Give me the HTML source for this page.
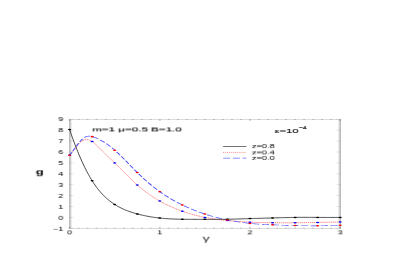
<!DOCTYPE html>
<html><head><meta charset="utf-8"><style>
html,body{margin:0;padding:0;background:#fff;}
body{width:410px;height:258px;position:relative;overflow:hidden;font-family:"Liberation Sans",sans-serif;color:#000;}
svg{position:absolute;left:0;top:0;}
.t{will-change:transform;position:absolute;left:0;top:0;white-space:nowrap;line-height:1;transform-origin:0 0;}
</style></head><body>
<svg width="410" height="258" viewBox="0 0 410 258">
<defs>
<linearGradient id="gl" x1="0" x2="1" y1="0" y2="0"><stop offset="0" stop-color="#b6b6b6"/><stop offset="0.45" stop-color="#cecece"/><stop offset="0.8" stop-color="#eeeeee"/><stop offset="1" stop-color="#ffffff"/></linearGradient>
<linearGradient id="gr" x1="1" x2="0" y1="0" y2="0"><stop offset="0" stop-color="#b6b6b6"/><stop offset="0.45" stop-color="#cecece"/><stop offset="0.8" stop-color="#eeeeee"/><stop offset="1" stop-color="#ffffff"/></linearGradient>
</defs>
<rect x="69.0" y="119.35" width="3.2" height="109.0" fill="url(#gl)"/>
<rect x="337.8" y="119.35" width="3.2" height="109.0" fill="url(#gr)"/>
<rect x="69.0" y="118.95" width="272.0" height="0.8" fill="#d2d2d2"/>
<rect x="69.0" y="227.95" width="272.0" height="0.8" fill="#d2d2d2"/>
<g fill="#000" fill-opacity="0.18"><rect x="68.70" y="226.75" width="1.8" height="1.9"/><rect x="68.70" y="119.05" width="1.8" height="1.9"/><rect x="77.72" y="227.65" width="1.8" height="1.0"/><rect x="77.72" y="119.05" width="1.8" height="1.0"/><rect x="86.74" y="227.65" width="1.8" height="1.0"/><rect x="86.74" y="119.05" width="1.8" height="1.0"/><rect x="95.76" y="227.65" width="1.8" height="1.0"/><rect x="95.76" y="119.05" width="1.8" height="1.0"/><rect x="104.78" y="227.65" width="1.8" height="1.0"/><rect x="104.78" y="119.05" width="1.8" height="1.0"/><rect x="113.80" y="227.65" width="1.8" height="1.0"/><rect x="113.80" y="119.05" width="1.8" height="1.0"/><rect x="122.82" y="227.65" width="1.8" height="1.0"/><rect x="122.82" y="119.05" width="1.8" height="1.0"/><rect x="131.84" y="227.65" width="1.8" height="1.0"/><rect x="131.84" y="119.05" width="1.8" height="1.0"/><rect x="140.86" y="227.65" width="1.8" height="1.0"/><rect x="140.86" y="119.05" width="1.8" height="1.0"/><rect x="149.88" y="227.65" width="1.8" height="1.0"/><rect x="149.88" y="119.05" width="1.8" height="1.0"/><rect x="158.90" y="226.75" width="1.8" height="1.9"/><rect x="158.90" y="119.05" width="1.8" height="1.9"/><rect x="167.92" y="227.65" width="1.8" height="1.0"/><rect x="167.92" y="119.05" width="1.8" height="1.0"/><rect x="176.94" y="227.65" width="1.8" height="1.0"/><rect x="176.94" y="119.05" width="1.8" height="1.0"/><rect x="185.96" y="227.65" width="1.8" height="1.0"/><rect x="185.96" y="119.05" width="1.8" height="1.0"/><rect x="194.98" y="227.65" width="1.8" height="1.0"/><rect x="194.98" y="119.05" width="1.8" height="1.0"/><rect x="204.00" y="227.65" width="1.8" height="1.0"/><rect x="204.00" y="119.05" width="1.8" height="1.0"/><rect x="213.02" y="227.65" width="1.8" height="1.0"/><rect x="213.02" y="119.05" width="1.8" height="1.0"/><rect x="222.04" y="227.65" width="1.8" height="1.0"/><rect x="222.04" y="119.05" width="1.8" height="1.0"/><rect x="231.06" y="227.65" width="1.8" height="1.0"/><rect x="231.06" y="119.05" width="1.8" height="1.0"/><rect x="240.08" y="227.65" width="1.8" height="1.0"/><rect x="240.08" y="119.05" width="1.8" height="1.0"/><rect x="249.10" y="226.75" width="1.8" height="1.9"/><rect x="249.10" y="119.05" width="1.8" height="1.9"/><rect x="258.12" y="227.65" width="1.8" height="1.0"/><rect x="258.12" y="119.05" width="1.8" height="1.0"/><rect x="267.14" y="227.65" width="1.8" height="1.0"/><rect x="267.14" y="119.05" width="1.8" height="1.0"/><rect x="276.16" y="227.65" width="1.8" height="1.0"/><rect x="276.16" y="119.05" width="1.8" height="1.0"/><rect x="285.18" y="227.65" width="1.8" height="1.0"/><rect x="285.18" y="119.05" width="1.8" height="1.0"/><rect x="294.20" y="227.65" width="1.8" height="1.0"/><rect x="294.20" y="119.05" width="1.8" height="1.0"/><rect x="303.22" y="227.65" width="1.8" height="1.0"/><rect x="303.22" y="119.05" width="1.8" height="1.0"/><rect x="312.24" y="227.65" width="1.8" height="1.0"/><rect x="312.24" y="119.05" width="1.8" height="1.0"/><rect x="321.26" y="227.65" width="1.8" height="1.0"/><rect x="321.26" y="119.05" width="1.8" height="1.0"/><rect x="330.28" y="227.65" width="1.8" height="1.0"/><rect x="330.28" y="119.05" width="1.8" height="1.0"/><rect x="339.30" y="226.75" width="1.8" height="1.9"/><rect x="339.30" y="119.05" width="1.8" height="1.9"/></g>
<g fill="#000" fill-opacity="0.10"><rect x="69.0" y="227.90" width="4.7" height="0.8"/><rect x="336.3" y="227.90" width="4.7" height="0.8"/><rect x="69.0" y="217.00" width="4.7" height="0.8"/><rect x="336.3" y="217.00" width="4.7" height="0.8"/><rect x="69.0" y="206.10" width="4.7" height="0.8"/><rect x="336.3" y="206.10" width="4.7" height="0.8"/><rect x="69.0" y="195.20" width="4.7" height="0.8"/><rect x="336.3" y="195.20" width="4.7" height="0.8"/><rect x="69.0" y="184.30" width="4.7" height="0.8"/><rect x="336.3" y="184.30" width="4.7" height="0.8"/><rect x="69.0" y="173.40" width="4.7" height="0.8"/><rect x="336.3" y="173.40" width="4.7" height="0.8"/><rect x="69.0" y="162.50" width="4.7" height="0.8"/><rect x="336.3" y="162.50" width="4.7" height="0.8"/><rect x="69.0" y="151.60" width="4.7" height="0.8"/><rect x="336.3" y="151.60" width="4.7" height="0.8"/><rect x="69.0" y="140.70" width="4.7" height="0.8"/><rect x="336.3" y="140.70" width="4.7" height="0.8"/><rect x="69.0" y="129.80" width="4.7" height="0.8"/><rect x="336.3" y="129.80" width="4.7" height="0.8"/><rect x="69.0" y="118.90" width="4.7" height="0.8"/><rect x="336.3" y="118.90" width="4.7" height="0.8"/></g>
<g transform="scale(2.0,1)" fill="none">
<path d="M34.80,155.27 L35.25,154.29 L35.70,153.24 L36.15,152.12 L36.60,150.97 L37.05,149.79 L37.51,148.60 L37.96,147.42 L38.41,146.27 L38.86,145.17 L39.31,144.13 L39.76,143.16 L40.21,142.30 L40.66,141.55 L41.11,140.92 L41.56,140.41 L42.02,140.03 L42.47,139.76 L42.92,139.61 L43.37,139.58 L43.82,139.65 L44.27,139.84 L44.72,140.13 L45.17,140.51 L45.62,140.98 L46.07,141.54 L46.53,142.17 L46.98,142.87 L47.43,143.63 L47.88,144.44 L48.33,145.29 L48.78,146.17 L49.23,147.08 L49.68,148.00 L50.13,148.93 L50.59,149.85 L51.04,150.77 L51.49,151.67 L51.94,152.56 L52.39,153.44 L52.84,154.31 L53.29,155.18 L53.74,156.04 L54.19,156.89 L54.64,157.75 L55.09,158.60 L55.55,159.45 L56.00,160.31 L56.45,161.17 L56.90,162.03 L57.35,162.90 L57.80,163.78 L58.25,164.66 L58.70,165.55 L59.15,166.45 L59.61,167.34 L60.06,168.25 L60.51,169.15 L60.96,170.06 L61.41,170.97 L61.86,171.88 L62.31,172.78 L62.76,173.69 L63.21,174.59 L63.66,175.49 L64.11,176.39 L64.57,177.28 L65.02,178.16 L65.47,179.04 L65.92,179.91 L66.37,180.77 L66.82,181.62 L67.27,182.46 L67.72,183.29 L68.17,184.11 L68.62,184.92 L69.08,185.71 L69.53,186.49 L69.98,187.25 L70.43,188.01 L70.88,188.75 L71.33,189.47 L71.78,190.19 L72.23,190.89 L72.68,191.58 L73.13,192.25 L73.59,192.92 L74.04,193.57 L74.49,194.21 L74.94,194.84 L75.39,195.46 L75.84,196.06 L76.29,196.66 L76.74,197.25 L77.19,197.82 L77.65,198.38 L78.10,198.94 L78.55,199.48 L79.00,200.01 L79.45,200.54 L79.90,201.05 L80.35,201.55 L80.80,202.05 L81.25,202.53 L81.70,203.01 L82.16,203.48 L82.61,203.94 L83.06,204.39 L83.51,204.83 L83.96,205.26 L84.41,205.69 L84.86,206.10 L85.31,206.51 L85.76,206.91 L86.21,207.31 L86.67,207.69 L87.12,208.07 L87.57,208.44 L88.02,208.81 L88.47,209.17 L88.92,209.52 L89.37,209.87 L89.82,210.21 L90.27,210.54 L90.72,210.87 L91.17,211.19 L91.63,211.50 L92.08,211.81 L92.53,212.12 L92.98,212.42 L93.43,212.71 L93.88,213.00 L94.33,213.28 L94.78,213.55 L95.23,213.82 L95.69,214.09 L96.14,214.35 L96.59,214.60 L97.04,214.85 L97.49,215.09 L97.94,215.33 L98.39,215.56 L98.84,215.79 L99.29,216.01 L99.74,216.22 L100.19,216.43 L100.65,216.64 L101.10,216.84 L101.55,217.03 L102.00,217.22 L102.45,217.40 L102.90,217.58 L103.35,217.75 L103.80,217.91 L104.25,218.08 L104.70,218.23 L105.16,218.38 L105.61,218.53 L106.06,218.67 L106.51,218.81 L106.96,218.95 L107.41,219.08 L107.86,219.20 L108.31,219.32 L108.76,219.44 L109.22,219.56 L109.67,219.67 L110.12,219.78 L110.57,219.89 L111.02,219.99 L111.47,220.09 L111.92,220.19 L112.37,220.29 L112.82,220.38 L113.27,220.47 L113.72,220.56 L114.18,220.65 L114.63,220.73 L115.08,220.82 L115.53,220.90 L115.98,220.98 L116.43,221.06 L116.88,221.14 L117.33,221.21 L117.78,221.29 L118.23,221.36 L118.69,221.43 L119.14,221.49 L119.59,221.56 L120.04,221.62 L120.49,221.68 L120.94,221.74 L121.39,221.80 L121.84,221.86 L122.29,221.91 L122.75,221.96 L123.20,222.02 L123.65,222.06 L124.10,222.11 L124.55,222.15 L125.00,222.20 L125.45,222.24 L125.90,222.27 L126.35,222.31 L126.80,222.35 L127.25,222.38 L127.71,222.41 L128.16,222.44 L128.61,222.47 L129.06,222.49 L129.51,222.52 L129.96,222.54 L130.41,222.56 L130.86,222.58 L131.31,222.60 L131.76,222.62 L132.22,222.64 L132.67,222.65 L133.12,222.67 L133.57,222.68 L134.02,222.69 L134.47,222.70 L134.92,222.71 L135.37,222.72 L135.82,222.73 L136.28,222.74 L136.73,222.75 L137.18,222.76 L137.63,222.76 L138.08,222.77 L138.53,222.77 L138.98,222.78 L139.43,222.78 L139.88,222.78 L140.33,222.79 L140.79,222.79 L141.24,222.79 L141.69,222.79 L142.14,222.79 L142.59,222.79 L143.04,222.79 L143.49,222.79 L143.94,222.78 L144.39,222.78 L144.84,222.78 L145.30,222.77 L145.75,222.77 L146.20,222.76 L146.65,222.75 L147.10,222.75 L147.55,222.74 L148.00,222.73 L148.45,222.72 L148.90,222.72 L149.35,222.71 L149.81,222.70 L150.26,222.69 L150.71,222.67 L151.16,222.66 L151.61,222.65 L152.06,222.64 L152.51,222.63 L152.96,222.61 L153.41,222.60 L153.86,222.59 L154.31,222.57 L154.77,222.56 L155.22,222.54 L155.67,222.53 L156.12,222.51 L156.57,222.50 L157.02,222.48 L157.47,222.46 L157.92,222.45 L158.37,222.43 L158.82,222.41 L159.28,222.40 L159.73,222.38 L160.18,222.36 L160.63,222.35 L161.08,222.33 L161.53,222.31 L161.98,222.29 L162.43,222.27 L162.88,222.26 L163.33,222.24 L163.79,222.22 L164.24,222.20 L164.69,222.19 L165.14,222.17 L165.59,222.15 L166.04,222.13 L166.49,222.11 L166.94,222.10 L167.39,222.08 L167.85,222.06 L168.30,222.04 L168.75,222.03 L169.20,222.01 L169.65,221.99 L170.10,221.98" stroke="#ff4040" stroke-width="0.5" stroke-dasharray="0.58 0.39"/>
<path d="M34.80,155.27 L35.25,154.14 L35.70,152.96 L36.15,151.75 L36.60,150.51 L37.05,149.26 L37.51,148.01 L37.96,146.77 L38.41,145.55 L38.86,144.36 L39.31,143.21 L39.76,142.12 L40.21,141.10 L40.66,140.15 L41.11,139.28 L41.56,138.51 L42.02,137.84 L42.47,137.26 L42.92,136.79 L43.37,136.44 L43.82,136.20 L44.27,136.09 L44.72,136.09 L45.17,136.20 L45.62,136.39 L46.07,136.63 L46.53,136.90 L46.98,137.19 L47.43,137.51 L47.88,137.86 L48.33,138.22 L48.78,138.62 L49.23,139.03 L49.68,139.47 L50.13,139.93 L50.59,140.41 L51.04,140.92 L51.49,141.45 L51.94,142.00 L52.39,142.57 L52.84,143.16 L53.29,143.77 L53.74,144.40 L54.19,145.06 L54.64,145.73 L55.09,146.42 L55.55,147.13 L56.00,147.86 L56.45,148.60 L56.90,149.37 L57.35,150.15 L57.80,150.95 L58.25,151.76 L58.70,152.59 L59.15,153.43 L59.61,154.29 L60.06,155.16 L60.51,156.04 L60.96,156.92 L61.41,157.82 L61.86,158.73 L62.31,159.64 L62.76,160.55 L63.21,161.48 L63.66,162.40 L64.11,163.33 L64.57,164.26 L65.02,165.18 L65.47,166.11 L65.92,167.04 L66.37,167.96 L66.82,168.88 L67.27,169.79 L67.72,170.70 L68.17,171.60 L68.62,172.49 L69.08,173.37 L69.53,174.25 L69.98,175.11 L70.43,175.97 L70.88,176.81 L71.33,177.65 L71.78,178.47 L72.23,179.29 L72.68,180.10 L73.13,180.90 L73.59,181.68 L74.04,182.46 L74.49,183.23 L74.94,183.99 L75.39,184.74 L75.84,185.48 L76.29,186.20 L76.74,186.92 L77.19,187.63 L77.65,188.33 L78.10,189.02 L78.55,189.70 L79.00,190.37 L79.45,191.03 L79.90,191.68 L80.35,192.31 L80.80,192.94 L81.25,193.56 L81.70,194.17 L82.16,194.77 L82.61,195.36 L83.06,195.94 L83.51,196.51 L83.96,197.07 L84.41,197.63 L84.86,198.17 L85.31,198.71 L85.76,199.24 L86.21,199.76 L86.67,200.27 L87.12,200.77 L87.57,201.27 L88.02,201.75 L88.47,202.24 L88.92,202.71 L89.37,203.18 L89.82,203.64 L90.27,204.09 L90.72,204.53 L91.17,204.97 L91.63,205.41 L92.08,205.83 L92.53,206.25 L92.98,206.67 L93.43,207.08 L93.88,207.48 L94.33,207.88 L94.78,208.26 L95.23,208.65 L95.69,209.03 L96.14,209.40 L96.59,209.77 L97.04,210.13 L97.49,210.48 L97.94,210.83 L98.39,211.17 L98.84,211.51 L99.29,211.84 L99.74,212.17 L100.19,212.49 L100.65,212.81 L101.10,213.12 L101.55,213.43 L102.00,213.73 L102.45,214.02 L102.90,214.31 L103.35,214.60 L103.80,214.88 L104.25,215.15 L104.70,215.42 L105.16,215.69 L105.61,215.95 L106.06,216.20 L106.51,216.45 L106.96,216.70 L107.41,216.94 L107.86,217.18 L108.31,217.42 L108.76,217.65 L109.22,217.87 L109.67,218.09 L110.12,218.31 L110.57,218.52 L111.02,218.73 L111.47,218.94 L111.92,219.14 L112.37,219.34 L112.82,219.53 L113.27,219.72 L113.72,219.91 L114.18,220.09 L114.63,220.27 L115.08,220.45 L115.53,220.62 L115.98,220.79 L116.43,220.95 L116.88,221.12 L117.33,221.28 L117.78,221.43 L118.23,221.58 L118.69,221.73 L119.14,221.87 L119.59,222.01 L120.04,222.15 L120.49,222.28 L120.94,222.41 L121.39,222.54 L121.84,222.66 L122.29,222.77 L122.75,222.89 L123.20,223.00 L123.65,223.10 L124.10,223.20 L124.55,223.30 L125.00,223.40 L125.45,223.48 L125.90,223.57 L126.35,223.65 L126.80,223.73 L127.25,223.81 L127.71,223.88 L128.16,223.95 L128.61,224.01 L129.06,224.07 L129.51,224.13 L129.96,224.19 L130.41,224.25 L130.86,224.30 L131.31,224.35 L131.76,224.40 L132.22,224.45 L132.67,224.49 L133.12,224.54 L133.57,224.58 L134.02,224.62 L134.47,224.66 L134.92,224.70 L135.37,224.74 L135.82,224.77 L136.28,224.81 L136.73,224.85 L137.18,224.89 L137.63,224.92 L138.08,224.96 L138.53,224.99 L138.98,225.03 L139.43,225.06 L139.88,225.10 L140.33,225.13 L140.79,225.16 L141.24,225.20 L141.69,225.23 L142.14,225.26 L142.59,225.29 L143.04,225.32 L143.49,225.35 L143.94,225.38 L144.39,225.40 L144.84,225.43 L145.30,225.46 L145.75,225.48 L146.20,225.51 L146.65,225.53 L147.10,225.55 L147.55,225.58 L148.00,225.60 L148.45,225.62 L148.90,225.64 L149.35,225.65 L149.81,225.67 L150.26,225.69 L150.71,225.70 L151.16,225.72 L151.61,225.73 L152.06,225.74 L152.51,225.75 L152.96,225.76 L153.41,225.77 L153.86,225.78 L154.31,225.79 L154.77,225.79 L155.22,225.80 L155.67,225.80 L156.12,225.80 L156.57,225.80 L157.02,225.80 L157.47,225.80 L157.92,225.80 L158.37,225.80 L158.82,225.79 L159.28,225.79 L159.73,225.78 L160.18,225.77 L160.63,225.76 L161.08,225.75 L161.53,225.74 L161.98,225.73 L162.43,225.71 L162.88,225.69 L163.33,225.68 L163.79,225.66 L164.24,225.64 L164.69,225.62 L165.14,225.59 L165.59,225.57 L166.04,225.54 L166.49,225.52 L166.94,225.49 L167.39,225.46 L167.85,225.43 L168.30,225.39 L168.75,225.36 L169.20,225.32 L169.65,225.29 L170.10,225.25" stroke="#5050ff" stroke-width="0.65" stroke-dasharray="3.5 1.4" stroke-dashoffset="0.45"/>
<path d="M111.55,146.5 H123.2" stroke="#333" stroke-width="0.45"/>
<path d="M111.55,152.4 H123.2" stroke="#ff4848" stroke-width="0.42" stroke-dasharray="0.5 0.47"/>
<path d="M111.55,158.1 H123.2" stroke="#6868ff" stroke-width="0.6" stroke-dasharray="3.5 1.4"/>
</g>
<path d="M69.60,129.55 L70.50,132.19 L71.40,134.79 L72.31,137.33 L73.21,139.83 L74.11,142.27 L75.01,144.67 L75.91,147.01 L76.82,149.31 L77.72,151.56 L78.62,153.75 L79.52,155.90 L80.42,158.00 L81.33,160.04 L82.23,162.04 L83.13,163.99 L84.03,165.89 L84.93,167.74 L85.84,169.54 L86.74,171.29 L87.64,172.99 L88.54,174.65 L89.44,176.25 L90.35,177.81 L91.25,179.32 L92.15,180.78 L93.05,182.19 L93.95,183.55 L94.86,184.87 L95.76,186.14 L96.66,187.37 L97.56,188.55 L98.46,189.70 L99.37,190.80 L100.27,191.86 L101.17,192.89 L102.07,193.87 L102.97,194.83 L103.88,195.74 L104.78,196.63 L105.68,197.48 L106.58,198.30 L107.48,199.08 L108.39,199.84 L109.29,200.57 L110.19,201.28 L111.09,201.95 L111.99,202.61 L112.90,203.24 L113.80,203.84 L114.70,204.43 L115.60,204.99 L116.50,205.54 L117.41,206.07 L118.31,206.57 L119.21,207.06 L120.11,207.53 L121.01,207.99 L121.92,208.43 L122.82,208.85 L123.72,209.26 L124.62,209.65 L125.52,210.03 L126.43,210.40 L127.33,210.75 L128.23,211.09 L129.13,211.41 L130.03,211.73 L130.94,212.04 L131.84,212.33 L132.74,212.61 L133.64,212.89 L134.54,213.16 L135.45,213.42 L136.35,213.67 L137.25,213.91 L138.15,214.15 L139.05,214.38 L139.96,214.61 L140.86,214.82 L141.76,215.04 L142.66,215.24 L143.56,215.44 L144.47,215.64 L145.37,215.82 L146.27,216.01 L147.17,216.18 L148.07,216.35 L148.98,216.52 L149.88,216.68 L150.78,216.83 L151.68,216.97 L152.58,217.12 L153.49,217.25 L154.39,217.38 L155.29,217.51 L156.19,217.63 L157.09,217.74 L158.00,217.85 L158.90,217.96 L159.80,218.05 L160.70,218.15 L161.60,218.24 L162.51,218.32 L163.41,218.40 L164.31,218.47 L165.21,218.54 L166.11,218.61 L167.02,218.67 L167.92,218.73 L168.82,218.79 L169.72,218.84 L170.62,218.88 L171.53,218.93 L172.43,218.97 L173.33,219.01 L174.23,219.04 L175.13,219.07 L176.04,219.10 L176.94,219.13 L177.84,219.16 L178.74,219.18 L179.64,219.20 L180.55,219.22 L181.45,219.24 L182.35,219.25 L183.25,219.27 L184.15,219.28 L185.06,219.29 L185.96,219.30 L186.86,219.31 L187.76,219.32 L188.66,219.33 L189.57,219.34 L190.47,219.34 L191.37,219.35 L192.27,219.35 L193.17,219.35 L194.08,219.36 L194.98,219.36 L195.88,219.36 L196.78,219.36 L197.68,219.36 L198.59,219.36 L199.49,219.36 L200.39,219.36 L201.29,219.36 L202.19,219.36 L203.10,219.36 L204.00,219.36 L204.90,219.36 L205.80,219.36 L206.70,219.36 L207.61,219.36 L208.51,219.36 L209.41,219.36 L210.31,219.36 L211.21,219.36 L212.12,219.36 L213.02,219.36 L213.92,219.36 L214.82,219.36 L215.72,219.36 L216.63,219.36 L217.53,219.35 L218.43,219.35 L219.33,219.34 L220.23,219.34 L221.14,219.33 L222.04,219.32 L222.94,219.31 L223.84,219.30 L224.74,219.29 L225.65,219.28 L226.55,219.27 L227.45,219.25 L228.35,219.24 L229.25,219.22 L230.16,219.20 L231.06,219.18 L231.96,219.16 L232.86,219.14 L233.76,219.11 L234.67,219.09 L235.57,219.06 L236.47,219.04 L237.37,219.01 L238.27,218.98 L239.18,218.95 L240.08,218.92 L240.98,218.90 L241.88,218.87 L242.78,218.84 L243.69,218.81 L244.59,218.78 L245.49,218.75 L246.39,218.72 L247.29,218.69 L248.20,218.66 L249.10,218.63 L250.00,218.60 L250.90,218.57 L251.80,218.54 L252.71,218.51 L253.61,218.49 L254.51,218.46 L255.41,218.43 L256.31,218.41 L257.22,218.38 L258.12,218.35 L259.02,218.33 L259.92,218.30 L260.82,218.28 L261.73,218.25 L262.63,218.22 L263.53,218.20 L264.43,218.17 L265.33,218.15 L266.24,218.12 L267.14,218.10 L268.04,218.07 L268.94,218.05 L269.84,218.02 L270.75,218.00 L271.65,217.97 L272.55,217.94 L273.45,217.92 L274.35,217.89 L275.26,217.87 L276.16,217.84 L277.06,217.81 L277.96,217.79 L278.86,217.76 L279.77,217.74 L280.67,217.71 L281.57,217.69 L282.47,217.66 L283.37,217.64 L284.28,217.62 L285.18,217.59 L286.08,217.57 L286.98,217.55 L287.88,217.53 L288.79,217.51 L289.69,217.49 L290.59,217.47 L291.49,217.46 L292.39,217.44 L293.30,217.43 L294.20,217.41 L295.10,217.40 L296.00,217.39 L296.90,217.38 L297.81,217.37 L298.71,217.37 L299.61,217.36 L300.51,217.35 L301.41,217.35 L302.32,217.35 L303.22,217.35 L304.12,217.35 L305.02,217.35 L305.92,217.35 L306.83,217.35 L307.73,217.35 L308.63,217.35 L309.53,217.36 L310.43,217.36 L311.34,217.36 L312.24,217.37 L313.14,217.37 L314.04,217.38 L314.94,217.38 L315.85,217.39 L316.75,217.39 L317.65,217.40 L318.55,217.41 L319.45,217.41 L320.36,217.42 L321.26,217.42 L322.16,217.43 L323.06,217.43 L323.96,217.44 L324.87,217.44 L325.77,217.44 L326.67,217.45 L327.57,217.45 L328.47,217.45 L329.38,217.45 L330.28,217.45 L331.18,217.45 L332.08,217.45 L332.98,217.45 L333.89,217.45 L334.79,217.45 L335.69,217.44 L336.59,217.43 L337.49,217.43 L338.40,217.42 L339.30,217.41 L340.20,217.40" fill="none" stroke="#1a1a1a" stroke-width="0.8"/>
<ellipse cx="69.60" cy="129.55" rx="1.6" ry="0.76" fill="#000"/><ellipse cx="92.15" cy="180.78" rx="1.6" ry="0.76" fill="#000"/><ellipse cx="114.70" cy="204.43" rx="1.6" ry="0.76" fill="#000"/><ellipse cx="137.25" cy="213.91" rx="1.6" ry="0.76" fill="#000"/><ellipse cx="159.80" cy="218.05" rx="1.6" ry="0.76" fill="#000"/><ellipse cx="182.35" cy="219.25" rx="1.6" ry="0.76" fill="#000"/><ellipse cx="204.90" cy="219.36" rx="1.6" ry="0.76" fill="#000"/><ellipse cx="227.45" cy="219.25" rx="1.6" ry="0.76" fill="#000"/><ellipse cx="250.00" cy="218.60" rx="1.6" ry="0.76" fill="#000"/><ellipse cx="272.55" cy="217.94" rx="1.6" ry="0.76" fill="#000"/><ellipse cx="295.10" cy="217.40" rx="1.6" ry="0.76" fill="#000"/><ellipse cx="317.65" cy="217.40" rx="1.6" ry="0.76" fill="#000"/><ellipse cx="340.20" cy="217.40" rx="1.6" ry="0.76" fill="#000"/>
<ellipse cx="69.60" cy="155.27" rx="1.6" ry="0.76" fill="#0000ff"/><ellipse cx="92.15" cy="141.54" rx="1.6" ry="0.76" fill="#0000ff"/><ellipse cx="114.70" cy="162.90" rx="1.6" ry="0.76" fill="#0000ff"/><ellipse cx="137.25" cy="184.92" rx="1.6" ry="0.76" fill="#0000ff"/><ellipse cx="159.80" cy="201.05" rx="1.6" ry="0.76" fill="#0000ff"/><ellipse cx="182.35" cy="211.19" rx="1.6" ry="0.76" fill="#0000ff"/><ellipse cx="204.90" cy="217.40" rx="1.6" ry="0.76" fill="#0000ff"/><ellipse cx="227.45" cy="220.56" rx="1.6" ry="0.76" fill="#0000ff"/><ellipse cx="250.00" cy="222.20" rx="1.6" ry="0.76" fill="#0000ff"/><ellipse cx="272.55" cy="222.74" rx="1.6" ry="0.76" fill="#0000ff"/><ellipse cx="295.10" cy="222.74" rx="1.6" ry="0.76" fill="#0000ff"/><ellipse cx="317.65" cy="222.41" rx="1.6" ry="0.76" fill="#0000ff"/><ellipse cx="340.20" cy="221.98" rx="1.6" ry="0.76" fill="#0000ff"/>
<ellipse cx="69.60" cy="155.27" rx="1.6" ry="0.76" fill="#ff0000"/><ellipse cx="92.15" cy="136.63" rx="1.6" ry="0.76" fill="#ff0000"/><ellipse cx="114.70" cy="150.15" rx="1.6" ry="0.76" fill="#ff0000"/><ellipse cx="137.25" cy="172.49" rx="1.6" ry="0.76" fill="#ff0000"/><ellipse cx="159.80" cy="191.68" rx="1.6" ry="0.76" fill="#ff0000"/><ellipse cx="182.35" cy="204.97" rx="1.6" ry="0.76" fill="#ff0000"/><ellipse cx="204.90" cy="214.02" rx="1.6" ry="0.76" fill="#ff0000"/><ellipse cx="227.45" cy="219.91" rx="1.6" ry="0.76" fill="#ff0000"/><ellipse cx="250.00" cy="223.40" rx="1.6" ry="0.76" fill="#ff0000"/><ellipse cx="272.55" cy="224.81" rx="1.6" ry="0.76" fill="#ff0000"/><ellipse cx="295.10" cy="225.58" rx="1.6" ry="0.76" fill="#ff0000"/><ellipse cx="317.65" cy="225.79" rx="1.6" ry="0.76" fill="#ff0000"/><ellipse cx="340.20" cy="225.25" rx="1.6" ry="0.76" fill="#ff0000"/>
</svg>
<div class="t" id="y-1" style="font-size:5.6px;transform:translate(53.08px,226.86px) rotate(0.03deg) scaleX(1.6);">−1</div><div class="t" id="y0" style="font-size:5.6px;transform:translate(58.32px,215.88px) rotate(0.03deg) scaleX(1.6);">0</div><div class="t" id="y1" style="font-size:5.6px;transform:translate(58.32px,204.90px) rotate(0.03deg) scaleX(1.6);">1</div><div class="t" id="y2" style="font-size:5.6px;transform:translate(58.32px,193.92px) rotate(0.03deg) scaleX(1.6);">2</div><div class="t" id="y3" style="font-size:5.6px;transform:translate(58.32px,182.94px) rotate(0.03deg) scaleX(1.6);">3</div><div class="t" id="y4" style="font-size:5.6px;transform:translate(58.32px,171.96px) rotate(0.03deg) scaleX(1.6);">4</div><div class="t" id="y5" style="font-size:5.6px;transform:translate(58.32px,160.98px) rotate(0.03deg) scaleX(1.6);">5</div><div class="t" id="y6" style="font-size:5.6px;transform:translate(58.32px,150.00px) rotate(0.03deg) scaleX(1.6);">6</div><div class="t" id="y7" style="font-size:5.6px;transform:translate(58.32px,139.02px) rotate(0.03deg) scaleX(1.6);">7</div><div class="t" id="y8" style="font-size:5.6px;transform:translate(58.32px,128.04px) rotate(0.03deg) scaleX(1.6);">8</div><div class="t" id="y9" style="font-size:5.6px;transform:translate(58.32px,117.06px) rotate(0.03deg) scaleX(1.6);">9</div><div class="t" id="x0" style="font-size:5.6px;transform:translate(67.11px,230.36px) rotate(0.03deg) scaleX(1.6);">0</div><div class="t" id="x1" style="font-size:5.6px;transform:translate(157.31px,230.36px) rotate(0.03deg) scaleX(1.6);">1</div><div class="t" id="x2" style="font-size:5.6px;transform:translate(247.51px,230.36px) rotate(0.03deg) scaleX(1.6);">2</div><div class="t" id="x3" style="font-size:5.6px;transform:translate(337.71px,230.36px) rotate(0.03deg) scaleX(1.6);">3</div>
<div class="t" id="ttl" style="font-size:6.2px;transform:translate(92.20px,126.40px) rotate(0.03deg) scaleX(1.877);-webkit-text-stroke:0.1px #000;">m=1 μ=0.5 B=1.0</div><div class="t" id="eps" style="font-size:6.2px;transform:translate(274.60px,128.00px) rotate(0.03deg) scaleX(1.803);-webkit-text-stroke:0.1px #000;">ε=10<span style="font-size:3.8px;position:relative;top:-3.6px;left:0.2px">−4</span></div><div class="t" id="l1" style="font-size:4.9px;transform:translate(251.80px,145.11px) rotate(0.03deg) scaleX(1.9);">z=0.8</div><div class="t" id="l2" style="font-size:4.9px;transform:translate(251.80px,151.41px) rotate(0.03deg) scaleX(1.9);">z=0.4</div><div class="t" id="l3" style="font-size:4.9px;transform:translate(251.80px,156.91px) rotate(0.03deg) scaleX(1.9);">z=0.0</div><div class="t" id="yg" style="font-size:7.2px;transform:translate(35.70px,168.30px) rotate(0.03deg) scaleX(1.82);font-weight:bold;">g</div><div class="t" id="xg" style="font-size:6.3px;transform:translate(202.60px,235.82px) rotate(0.03deg) scaleX(2.25);color:#222;">γ</div>
</body></html>
